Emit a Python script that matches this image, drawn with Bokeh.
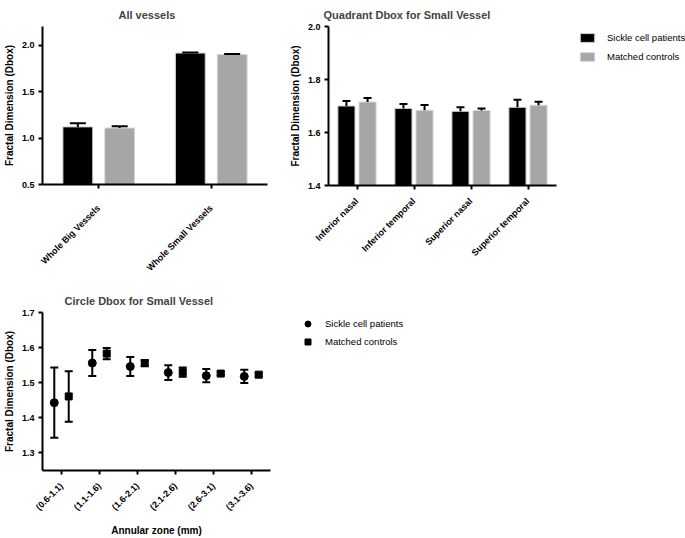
from math import pi
from bokeh.plotting import figure
from bokeh.models import (FactorRange, Range1d, FixedTicker, Whisker, TeeHead,
                          Legend, LegendItem, ColumnDataSource, PrintfTickFormatter)
from bokeh.layouts import column, row
from bokeh.transform import dodge
from bokeh.embed import file_html
from bokeh.resources import INLINE

# ---------------- data ----------------
vessel_types = ["Whole Big Vessels", "Whole Small Vessels"]
all_scd = [1.120, 1.914]
all_scd_err = [0.040, 0.006]
all_ctrl = [1.108, 1.900]
all_ctrl_err = [0.020, 0.005]

quadrants = ["Inferior nasal", "Inferior temporal", "Superior nasal", "Superior temporal"]
quad_scd = [1.700, 1.691, 1.680, 1.695]
quad_scd_err = [0.019, 0.017, 0.015, 0.029]
quad_ctrl = [1.715, 1.684, 1.683, 1.703]
quad_ctrl_err = [0.015, 0.020, 0.008, 0.013]

zones = ["(0.6-1.1)", "(1.1-1.6)", "(1.6-2.1)", "(2.1-2.6)", "(2.6-3.1)", "(3.1-3.6)"]
circ_scd = [1.443, 1.556, 1.546, 1.529, 1.520, 1.518]
circ_scd_err = [0.100, 0.037, 0.027, 0.021, 0.019, 0.019]
circ_ctrl = [1.461, 1.583, 1.556, 1.530, 1.526, 1.523]
circ_ctrl_err = [0.072, 0.016, 0.009, 0.013, 0.005, 0.005]

y_ticks_all = [0.5, 1.0, 1.5, 2.0]
y_ticks_quad = [1.4, 1.6, 1.8, 2.0]
y_ticks_circ = [1.3, 1.4, 1.5, 1.6, 1.7]

FONT = "Liberation Sans"
BLACK = "#000000"
GRAY = "#a6a6a6"


def style(p, ticks, title_offset, title_standoff, xlabel_standoff):
    p.outline_line_color = None
    p.xgrid.visible = False
    p.ygrid.visible = False
    for ax in p.axis:
        ax.axis_line_width = 2
        ax.major_tick_line_width = 2
        ax.major_tick_out = 4
        ax.major_tick_in = 0
        ax.minor_tick_line_color = None
        ax.major_label_text_font = FONT
        ax.major_label_text_font_size = "9px"
        ax.major_label_text_font_style = "bold"
        ax.major_label_text_color = "#000000"
        ax.axis_label_text_font = FONT
        ax.axis_label_text_font_size = "10px"
        ax.axis_label_text_font_style = "bold"
        ax.axis_label_text_color = "#000000"
    p.yaxis.ticker = FixedTicker(ticks=ticks)
    p.yaxis.formatter = PrintfTickFormatter(format="%.1f")
    p.yaxis.axis_label = "Fractal Dimension (Dbox)"
    p.yaxis.axis_label_standoff = 4
    p.yaxis.major_label_standoff = 4
    p.xaxis.major_label_orientation = pi / 4
    p.xaxis.major_label_standoff = xlabel_standoff
    p.title.text_font = FONT
    p.title.text_font_size = "11px"
    p.title.text_font_style = "bold"
    p.title.align = "left"
    p.title.offset = title_offset
    p.title.standoff = title_standoff


def legend_for(p, renderers, labels, loc, gw, gh, standoff, spacing):
    lg = Legend(items=[LegendItem(label=l, renderers=[r]) for l, r in zip(labels, renderers)],
                location=loc, orientation="vertical", padding=0, margin=0,
                spacing=spacing, glyph_width=gw, glyph_height=gh, label_height=gh,
                label_standoff=standoff, label_text_font=FONT, label_text_font_size="9.5px",
                label_text_color="#000000", border_line_color=None, background_fill_alpha=0)
    p.add_layout(lg, "right")


# ---------------- panel 1: all vessels ----------------
src1 = ColumnDataSource(dict(
    x=vessel_types, scd=all_scd, ctrl=all_ctrl,
    scd_hi=[v + e for v, e in zip(all_scd, all_scd_err)],
    ctrl_hi=[v + e for v, e in zip(all_ctrl, all_ctrl_err)]))
p1 = figure(x_range=FactorRange(factors=vessel_types), y_range=Range1d(0.5, 2.2),
            frame_width=225, frame_height=158, min_border_left=34, min_border_right=19,
            min_border_top=26, min_border_bottom=100, title="All vessels",
            output_backend="svg", toolbar_location=None)
r1a = p1.vbar(x=dodge("x", -0.186, range=p1.x_range), top="scd", bottom=0.5, width=0.265,
              fill_color=BLACK, line_color="#d0d0d0", line_width=1, source=src1)
r1b = p1.vbar(x=dodge("x", 0.186, range=p1.x_range), top="ctrl", bottom=0.5, width=0.265,
              fill_color=GRAY, line_color="#d8d8d8", line_width=1, source=src1)
for off, lo, hi in [(-0.186, "scd", "scd_hi"), (0.186, "ctrl", "ctrl_hi")]:
    p1.add_layout(Whisker(base=dodge("x", off, range=p1.x_range), lower=lo, upper=hi,
                          source=src1, dimension="height", line_width=2, line_color="black",
                          upper_head=TeeHead(size=16, line_width=2, line_color="black"),
                          lower_head=None, level="annotation"))
style(p1, y_ticks_all, 76, 12, 18)

# ---------------- panel 2: quadrants ----------------
src2 = ColumnDataSource(dict(
    x=quadrants, scd=quad_scd, ctrl=quad_ctrl,
    scd_hi=[v + e for v, e in zip(quad_scd, quad_scd_err)],
    ctrl_hi=[v + e for v, e in zip(quad_ctrl, quad_ctrl_err)]))
p2 = figure(x_range=FactorRange(factors=quadrants), y_range=Range1d(1.4, 2.0),
            frame_width=228, frame_height=159, min_border_left=34, min_border_right=137,
            min_border_top=26, min_border_bottom=99, title="Quadrant Dbox for Small Vessel",
            output_backend="svg", toolbar_location=None)
r2a = p2.vbar(x=dodge("x", -0.185, range=p2.x_range), top="scd", bottom=1.4, width=0.3,
              fill_color=BLACK, line_color="#d0d0d0", line_width=1, source=src2)
r2b = p2.vbar(x=dodge("x", 0.185, range=p2.x_range), top="ctrl", bottom=1.4, width=0.3,
              fill_color=GRAY, line_color="#d8d8d8", line_width=1, source=src2)
for off, lo, hi in [(-0.185, "scd", "scd_hi"), (0.185, "ctrl", "ctrl_hi")]:
    p2.add_layout(Whisker(base=dodge("x", off, range=p2.x_range), lower=lo, upper=hi,
                          source=src2, dimension="height", line_width=2, line_color="black",
                          upper_head=TeeHead(size=8, line_width=2, line_color="black"),
                          lower_head=None, level="annotation"))
style(p2, y_ticks_quad, -5, 12, 10)
legend_for(p2, [r2a, r2b], ["Sickle cell patients", "Matched controls"], (22, 123), 18, 11, 11, 8)

# ---------------- panel 3: circles ----------------
src3 = ColumnDataSource(dict(
    x=zones, scd=circ_scd, ctrl=circ_ctrl,
    scd_lo=[v - e for v, e in zip(circ_scd, circ_scd_err)],
    scd_hi=[v + e for v, e in zip(circ_scd, circ_scd_err)],
    ctrl_lo=[v - e for v, e in zip(circ_ctrl, circ_ctrl_err)],
    ctrl_hi=[v + e for v, e in zip(circ_ctrl, circ_ctrl_err)]))
p3 = figure(x_range=FactorRange(factors=zones), y_range=Range1d(1.25, 1.7),
            frame_width=228, frame_height=158, min_border_left=30, min_border_right=162,
            min_border_top=28, min_border_bottom=60, title="Circle Dbox for Small Vessel",
            output_backend="svg", toolbar_location=None)
for off, lo, hi in [(-0.19, "scd_lo", "scd_hi"), (0.19, "ctrl_lo", "ctrl_hi")]:
    p3.add_layout(Whisker(base=dodge("x", off, range=p3.x_range), lower=lo, upper=hi,
                          source=src3, dimension="height", line_width=2, line_color="black",
                          upper_head=TeeHead(size=8, line_width=2, line_color="black"),
                          lower_head=TeeHead(size=8, line_width=2, line_color="black")))
r3a = p3.scatter(x=dodge("x", -0.19, range=p3.x_range), y="scd", marker="circle", size=8,
                 fill_color="black", line_color="black", source=src3)
r3b = p3.scatter(x=dodge("x", 0.19, range=p3.x_range), y="ctrl", marker="square", size=7,
                 fill_color="black", line_color="black", source=src3)
style(p3, y_ticks_circ, 22, 11, 10)
p3.xaxis.axis_label = "Annular zone (mm)"
p3.xaxis.axis_label_standoff = 6
legend_for(p3, [r3a, r3b], ["Sickle cell patients", "Matched controls"], (30, 121), 15, 15, 10, 3)

layout = column(row(p1, p2), p3)
open("out.html", "w").write(file_html(layout, INLINE))
